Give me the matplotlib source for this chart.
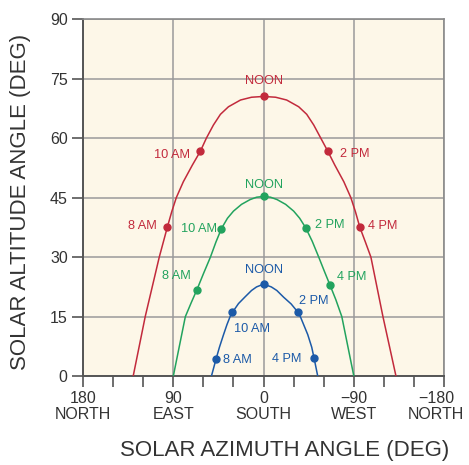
"""Sun path chart: solar altitude vs. solar azimuth for three dates."""

import matplotlib

matplotlib.use("Agg")
import matplotlib.pyplot as plt  # noqa: E402
from matplotlib.transforms import ScaledTranslation  # noqa: E402

plt.rcParams["font.family"] = ["Liberation Sans", "DejaVu Sans"]

# Sun-path curves: (azimuth deg, altitude deg)
SUMMER_AZ = [130, 124, 118, 111, 104, 96, 91.5, 87, 80, 71, 63, 57, 50, 43, 35, 23, 12, 0,
             -12, -23, -35, -43, -50, -57, -64, -71, -80, -87, -91.5, -96, -101.5, -107,
             -113, -119, -125.5, -132]
SUMMER_ALT = [0, 7.5, 15, 22.5, 30, 37.5, 41.5, 45, 49, 53.2, 56.7, 60, 63.3, 66, 67.9, 69.6, 70.3, 70.5,
              70.3, 69.6, 67.9, 66, 63.3, 60, 56.7, 53.2, 49, 45, 41.5, 37.5, 33.8, 30,
              22.5, 15, 7.5, 0]
EQUINOX_AZ = [90, 84, 78, 72, 66.6, 60, 53, 47.5, 42, 36, 30, 22, 13.5, 7, 0,
              -7, -13.5, -22, -30, -36, -42, -48.5, -55, -60.5, -66.3, -72, -78, -84, -90]
EQUINOX_ALT = [0, 7.5, 15, 18.6, 21.7, 25.8, 30, 33.8, 37.2, 39.8, 41.6, 43.3, 44.5, 45.1, 45.3,
               45.1, 44.5, 43.3, 41.6, 39.8, 37.4, 34, 30, 26.5, 22.9, 19.3, 15, 7.5, 0]
WINTER_AZ = [52, 47.4, 44, 40, 36.5, 33.4, 31, 25, 18.4, 12, 7, 0,
             -7.7, -13.2, -20, -27.5, -34, -37, -44, -48, -50.3, -54]
WINTER_ALT = [0, 4.3, 7.3, 10.4, 13, 15, 16.1, 18.3, 20, 21.6, 22.5, 23.2,
              22.5, 21.6, 19.9, 18.2, 16.2, 14.8, 10.5, 7.3, 4.6, 0]

# Hour markers: (label, azimuth, altitude)
SUMMER_HOURS = ["8 AM", "10 AM", "NOON", "2 PM", "4 PM"]
SUMMER_H_AZ = [96, 63, 0, -64, -96]
SUMMER_H_ALT = [37.5, 56.7, 70.5, 56.7, 37.5]
EQUINOX_HOURS = ["8 AM", "10 AM", "NOON", "2 PM", "4 PM"]
EQUINOX_H_AZ = [66.6, 42, 0, -42, -66.3]
EQUINOX_H_ALT = [21.7, 37.2, 45.3, 37.4, 22.9]
WINTER_HOURS = ["8 AM", "10 AM", "NOON", "2 PM", "4 PM"]
WINTER_H_AZ = [47.4, 31, 0, -34, -50.3]
WINTER_H_ALT = [4.3, 16.1, 23.2, 16.2, 4.6]

X_TICKS = [180, 90, 0, -90, -180]
X_TICK_LABELS = ["180\nNORTH", "90\nEAST", "0\nSOUTH", "\u221290\nWEST", "\u2212180\nNORTH"]
Y_TICKS = [0, 15, 30, 45, 60, 75, 90]

RED = "#c22a3c"
GREEN = "#22a35e"
BLUE = "#1c5aa8"

# label placement per hour (dx, dy in data units, ha, va) for each curve
SUMMER_POS = [(10.5, 0.4, "right", "center"), (10, -1, "right", "center"),
              (0, 3.9, "center", "center"), (-12, -0.7, "left", "center"),
              (-8.5, 0.4, "left", "center")]
EQUINOX_POS = [(20, 3.6, "center", "center"), (4.7, -0.2, "right", "center"),
               (0, 3.0, "center", "center"), (-9.3, 0.6, "left", "center"),
               (-21.7, 2.1, "center", "center")]
WINTER_POS = [(-7.4, -0.1, "left", "center"), (-19.5, -4.3, "center", "center"),
              (0, 3.5, "center", "center"), (-1, 2.7, "left", "center"),
              (12.3, -0.2, "right", "center")]


def draw_path(ax, az, alt, h_az, h_alt, hours, pos, color):
    ax.plot(az, alt, color=color, lw=1.1, zorder=3, solid_joinstyle="round")
    ax.plot(h_az, h_alt, "o", color=color, ms=5, zorder=4)
    for lab, x, y, (dx, dy, ha, va) in zip(hours, h_az, h_alt, pos):
        ax.text(x + dx, y + dy, lab, color=color, fontsize=9.2, ha=ha, va=va, zorder=5)


fig = plt.figure(figsize=(4.69, 4.65), dpi=100)
ax = fig.add_axes([0.177, 0.191, 0.770, 0.768])
ax.set_facecolor("#fdf7e8")

draw_path(ax, SUMMER_AZ, SUMMER_ALT, SUMMER_H_AZ, SUMMER_H_ALT, SUMMER_HOURS, SUMMER_POS, RED)
draw_path(ax, EQUINOX_AZ, EQUINOX_ALT, EQUINOX_H_AZ, EQUINOX_H_ALT, EQUINOX_HOURS, EQUINOX_POS, GREEN)
draw_path(ax, WINTER_AZ, WINTER_ALT, WINTER_H_AZ, WINTER_H_ALT, WINTER_HOURS, WINTER_POS, BLUE)

ax.set_xlim(180, -180)
ax.set_ylim(0, 90)
ax.set_xticks(X_TICKS)
ax.set_xticklabels(X_TICK_LABELS, fontsize=11.5, color="#333333", linespacing=1.05)
ax.set_xticks(range(-180, 181, 30), minor=True)
ax.set_yticks(Y_TICKS)
ax.set_yticklabels([str(v) for v in Y_TICKS], fontsize=11.5, color="#333333")
ax.tick_params(axis="both", which="both", direction="out", length=8, width=1.2,
               color="#555555", pad=3)
ax.grid(True, which="major", color="#9a9a9a", lw=1.1, zorder=1)
ax.set_axisbelow(True)

# the rightmost NORTH sits a little left of its tick so it stays on the canvas
last = ax.get_xticklabels()[-1]
last.set_transform(last.get_transform() + ScaledTranslation(-8 / 100, 0, fig.dpi_scale_trans))

for side in ["left", "bottom"]:
    ax.spines[side].set_color("#555555")
    ax.spines[side].set_linewidth(1.4)
for side in ["top", "right"]:
    ax.spines[side].set_color("#8a8a8a")
    ax.spines[side].set_linewidth(1.2)

ax.set_xlabel("SOLAR AZIMUTH ANGLE (DEG)", fontsize=16, color="#333333")
ax.set_ylabel("SOLAR ALTITUDE ANGLE (DEG)", fontsize=16, color="#333333")
ax.xaxis.set_label_coords(0.557, -0.18)
ax.yaxis.set_label_coords(-0.145, 0.487)

fig.savefig("out.png", dpi=100)
